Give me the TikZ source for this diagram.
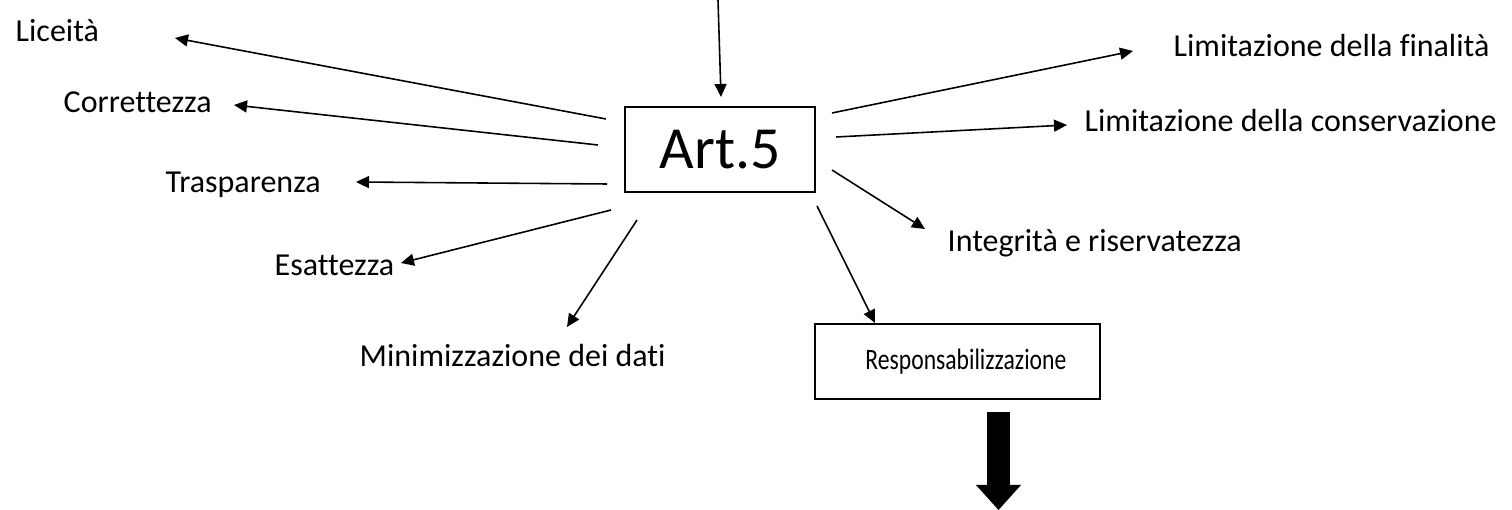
\documentclass[tikz,border=0pt]{standalone}
\usepackage{fontspec}
\setmainfont{Carlito}[Ligatures=NoCommon]
\newfontfamily\narrowfont{Carlito}[Ligatures=NoCommon, FakeStretch=0.8]
\usetikzlibrary{arrows.meta,positioning}

\begin{document}
\begin{tikzpicture}[x=0.01cm, y=-0.01cm,
    lbl/.style={anchor=base west, inner sep=0pt, font=\fontsize{9.1}{11}\selectfont},
    box/.style={draw, line width=0.6pt, inner sep=0pt},
    arr/.style={line width=0.45pt, -{Triangle[length=1.3mm, width=1.2mm]}},
    bigarr/.style={line width=2.3mm, -{Triangle[length=2.5mm, width=4.5mm, line width=0pt]}}]
  \useasboundingbox (0,0) rectangle (1512,510);
  % boxes
  \node[box, minimum width=1.9cm, minimum height=0.85cm, font=\fontsize{17}{20}\selectfont] (art) at (720,149.5) {Art.5};
  \node[box, minimum width=2.85cm, minimum height=0.75cm, font=\narrowfont\fontsize{8.4}{10}\selectfont] (resp) at (957.5,361.5) {\hspace{4.8pt}Responsabilizzazione};
  % principles
  \node[lbl] (lic) at (15,42) {Liceità};
  \node[lbl] (cor) at (63,113) {Correttezza};
  \node[lbl] (tra) at (165,193) {Trasparenza};
  \node[lbl] (esa) at (274,276) {Esattezza};
  \node[lbl] (min) at (359,367) {Minimizzazione dei dati};
  \node[lbl] (int) at (947,252) {Integrità e riservatezza};
  \node[lbl] (con) at (1084,132) {Limitazione della conservazione};
  \node[lbl] (fin) at (1173,57) {Limitazione della finalità};
  % arrow ends
  \coordinate (in) at (718,0);        \coordinate (art-in) at (721,97);
  \coordinate (art-lic) at (606,119); \coordinate (lic-tip) at (175,38);
  \coordinate (art-cor) at (598,145); \coordinate (cor-tip) at (234,105);
  \coordinate (art-tra) at (607,184); \coordinate (tra-tip) at (356,182);
  \coordinate (art-esa) at (611,210); \coordinate (esa-tip) at (401,263);
  \coordinate (art-min) at (637,220); \coordinate (min-tip) at (567,327);
  \coordinate (art-resp) at (817,206); \coordinate (resp-tip) at (875,323);
  \coordinate (art-int) at (832,170); \coordinate (int-tip) at (925,229);
  \coordinate (art-con) at (836,137); \coordinate (con-tip) at (1067,125);
  \coordinate (art-fin) at (832,113); \coordinate (fin-tip) at (1133,51);
  \foreach \s/\t in {in/art-in, art-lic/lic-tip, art-cor/cor-tip, art-tra/tra-tip,
      art-esa/esa-tip, art-min/min-tip, art-resp/resp-tip, art-int/int-tip,
      art-con/con-tip, art-fin/fin-tip}
    \draw[arr] (\s) -- (\t);
  % big arrow below
  \coordinate (down-s) at (998.5,412); \coordinate (down-e) at (998.5,510);
  \draw[bigarr] (down-s) -- (down-e);
\end{tikzpicture}
\end{document}
